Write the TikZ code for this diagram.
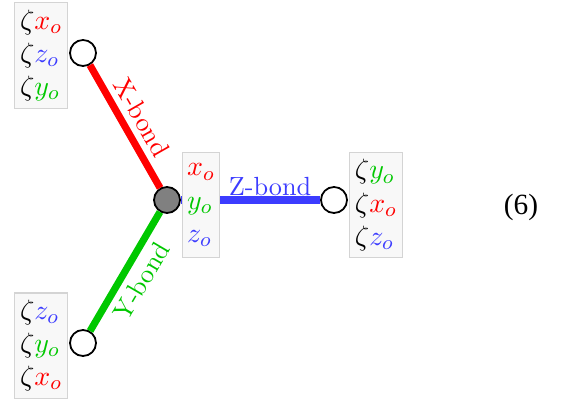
\documentclass[tikz,border=0pt]{standalone}
\usepackage{amsmath,amssymb}
\usepackage{fontspec}
\newfontfamily\eqnfont{Liberation Serif}
\usetikzlibrary{positioning}

\definecolor{xred}{RGB}{255,0,0}
\definecolor{ygreen}{RGB}{0,200,0}
\definecolor{zblue}{RGB}{60,60,255}
\definecolor{boxgray}{RGB}{248,248,248}
\definecolor{boxline}{RGB}{212,212,212}

\newcommand{\Xo}{{\color{xred}x_o}}
\newcommand{\Yo}{{\color{ygreen}y_o}}
\newcommand{\Zo}{{\color{zblue}z_o}}

\begin{document}
\begin{tikzpicture}[
  x=0.392pt, y=-0.392pt,
  site/.style={circle, draw, line width=0.7pt, fill=white, minimum size=10.2pt, inner sep=0pt},
  bond/.style={line width=2.8pt},
  spin/.style={draw=boxline, fill=boxgray, line width=0.4pt, align=left, inner sep=1pt,
    minimum height=41.2pt, font=\fontsize{10.8}{13}\selectfont},
  lbl/.style={inner sep=2.5pt, font=\fontsize{10.3}{12}\selectfont}
]
\useasboundingbox (0,0) rectangle (569,400);
\node[site, fill=black!50] (c) at (167,200) {};
\node[site] (tl) at (83,53) {};
\node[site] (bl) at (83,343) {};
\node[site] (r) at (334,200) {};
% bonds
\draw[bond, xred] (tl) -- node[midway, above, sloped, lbl] {X-bond} (c);
\draw[bond, ygreen] (bl) -- node[midway, below, sloped, lbl] {Y-bond} (c);
\draw[bond, zblue] (c) -- (r);
% spin labels
\node[spin, minimum width=20.8pt, left=0.4pt of tl, yshift=-1pt] (tlbox) {$\zeta\Xo$\\$\zeta\Zo$\\$\zeta\Yo$};
\node[spin, minimum width=20.8pt, left=0.4pt of bl, yshift=-1pt] (blbox) {$\zeta\Zo$\\$\zeta\Yo$\\$\zeta\Xo$};
\node[spin, minimum width=20.8pt, right=0.4pt of r, yshift=-2pt] (rbox) {$\zeta\Yo$\\$\zeta\Xo$\\$\zeta\Zo$};
\node[spin, minimum width=14.5pt, right=0.4pt of c, yshift=-2pt] (cbox) {$\Xo$\\$\Yo$\\$\Zo$};
\path (cbox.east) -- node[above, zblue, lbl] {Z-bond} (r.west);
\node (eq) at (521,207) {\eqnfont\fontsize{11.5}{13}\selectfont (6)};
\end{tikzpicture}
\end{document}
